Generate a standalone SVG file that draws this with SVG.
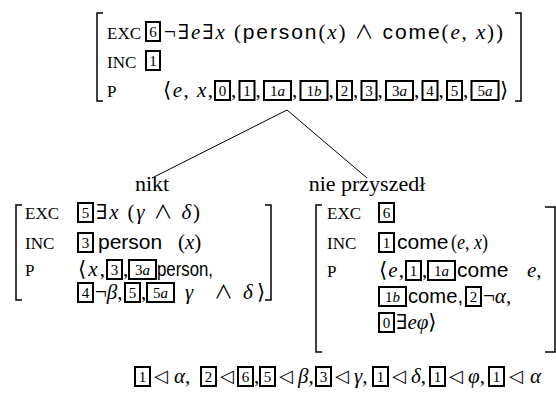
<svg xmlns="http://www.w3.org/2000/svg" width="556" height="406" viewBox="0 0 556 406">
<style>
.m{font-family:"Liberation Serif","DejaVu Serif",serif;font-size:21px;fill:#000}
.i{font-style:italic}
.s{font-family:"Liberation Sans",sans-serif;font-size:21px}
.a{font-family:"Noto Sans CJK JP","DejaVu Sans",sans-serif;font-size:19px}
.t{font-family:"DejaVu Sans",sans-serif;font-size:18px;fill:#000}
.l{font-family:"Liberation Serif",serif;font-size:17px;fill:#000}
.w{font-family:"Liberation Serif",serif;font-size:22px;fill:#000}
.bx{fill:#fff;stroke:#000;stroke-width:2}
.bt{font-family:"Liberation Serif",serif;font-size:15px;text-anchor:middle;fill:#000}
.br{fill:none;stroke:#000;stroke-width:1.5}
.ln{stroke:#000;stroke-width:1;fill:none}
</style>
<rect width="556" height="406" fill="#fff"/>
<g id="connectors">
<line class="ln" x1="287" y1="110" x2="152" y2="178"/>
<line class="ln" x1="287" y1="110" x2="367" y2="178"/>
</g>
<g id="root">
<path class="br" d="M103,13 H97 V101 H103"/>
<path class="br" d="M515,13 H521 V101 H515"/>
<text class="l" x="107" y="39">EXC</text>
<rect class="bx" x="146" y="22" width="14" height="19"/><text class="bt" x="153" y="37">6</text>
<text class="m" x="164" y="39" textLength="339" lengthAdjust="spacing">¬∃<tspan class="i">e</tspan>∃<tspan class="i">x</tspan> (<tspan class="s">person</tspan>(<tspan class="i">x</tspan>) <tspan class="a">∧</tspan> <tspan class="s">come</tspan>(<tspan class="i">e</tspan>, <tspan class="i">x</tspan>))</text>
<text class="l" x="107" y="68">INC</text>
<rect class="bx" x="146" y="51" width="14" height="19"/><text class="bt" x="153" y="66">1</text>
<text class="l" x="107" y="97">P</text>
<text class="m" x="163" y="97" textLength="50" lengthAdjust="spacing">⟨<tspan class="i">e</tspan>, <tspan class="i">x</tspan>,</text>
<rect class="bx" x="215" y="81" width="15" height="19"/><text class="bt" x="222.5" y="96">0</text><text class="m" x="231" y="97">,</text>
<rect class="bx" x="239.5" y="81" width="15" height="19"/><text class="bt" x="247" y="96">1</text><text class="m" x="255.5" y="97">,</text>
<rect class="bx" x="264" y="81" width="27" height="19"/><text class="bt" x="277.5" y="96">1<tspan class="i">a</tspan></text><text class="m" x="292" y="97">,</text>
<rect class="bx" x="300.5" y="81" width="27" height="19"/><text class="bt" x="314" y="96">1<tspan class="i">b</tspan></text><text class="m" x="328.5" y="97">,</text>
<rect class="bx" x="337" y="81" width="15" height="19"/><text class="bt" x="344.5" y="96">2</text><text class="m" x="353" y="97">,</text>
<rect class="bx" x="361.5" y="81" width="15" height="19"/><text class="bt" x="369" y="96">3</text><text class="m" x="377.5" y="97">,</text>
<rect class="bx" x="386" y="81" width="27" height="19"/><text class="bt" x="399.5" y="96">3<tspan class="i">a</tspan></text><text class="m" x="414" y="97">,</text>
<rect class="bx" x="422.5" y="81" width="15" height="19"/><text class="bt" x="430" y="96">4</text><text class="m" x="438.5" y="97">,</text>
<rect class="bx" x="447" y="81" width="15" height="19"/><text class="bt" x="454.5" y="96">5</text><text class="m" x="463" y="97">,</text>
<rect class="bx" x="471.5" y="81" width="27" height="19"/><text class="bt" x="485" y="96">5<tspan class="i">a</tspan></text>
<text class="m" x="500" y="97">⟩</text>
</g>
<g id="nikt">
<text class="w" x="152" y="191" text-anchor="middle">nikt</text>
<path class="br" d="M22,205 H16 V300 H22"/>
<path class="br" d="M265,205 H271 V300 H265"/>
<text class="l" x="25" y="219">EXC</text>
<rect class="bx" x="78" y="203" width="15" height="19"/><text class="bt" x="85.5" y="218">5</text>
<text class="m" x="96" y="219" textLength="104" lengthAdjust="spacing">∃<tspan class="i">x</tspan> (<tspan class="i">γ</tspan> <tspan class="a">∧</tspan> <tspan class="i">δ</tspan>)</text>
<text class="l" x="25" y="249">INC</text>
<rect class="bx" x="78" y="233" width="15" height="19"/><text class="bt" x="85.5" y="248">3</text>
<text class="s" x="98" y="249">person</text>
<text class="m" x="178" y="249">(<tspan class="i">x</tspan>)</text>
<text class="l" x="25" y="276">P</text>
<text class="m" x="78" y="276" textLength="27" lengthAdjust="spacing">⟨<tspan class="i">x</tspan>,</text>
<rect class="bx" x="107" y="260" width="15" height="19"/><text class="bt" x="114.5" y="275">3</text><text class="m" x="123" y="276">,</text>
<rect class="bx" x="129" y="260" width="27" height="19"/><text class="bt" x="142.5" y="275">3<tspan class="i">a</tspan></text>
<text class="s" x="157" y="276" textLength="56" lengthAdjust="spacingAndGlyphs">person,</text>
<rect class="bx" x="78" y="283" width="15" height="19"/><text class="bt" x="85.5" y="298">4</text>
<text class="m" x="95" y="299">¬<tspan class="i">β</tspan>,</text>
<rect class="bx" x="125" y="283" width="15" height="19"/><text class="bt" x="132.5" y="298">5</text><text class="m" x="141" y="299">,</text>
<rect class="bx" x="147" y="283" width="27" height="19"/><text class="bt" x="160.5" y="298">5<tspan class="i">a</tspan></text>
<text class="m" x="185" y="299"><tspan class="i">γ</tspan></text>
<text class="a" x="214" y="299">∧</text>
<text class="m" x="243" y="299"><tspan class="i">δ</tspan><tspan x="257">⟩</tspan></text>
</g>
<g id="nie-przyszedl">
<text class="w" x="367" y="191" text-anchor="middle">nie przyszedł</text>
<path class="br" d="M322,205 H316 V352 H322"/>
<path class="br" d="M545,207 H555 V352 H545"/>
<text class="l" x="327" y="219">EXC</text>
<rect class="bx" x="379" y="203" width="15" height="19"/><text class="bt" x="386.5" y="218">6</text>
<text class="l" x="327" y="249">INC</text>
<rect class="bx" x="379" y="233" width="15" height="19"/><text class="bt" x="386.5" y="248">1</text>
<text class="s" x="397" y="249">come</text>
<text class="m" x="451" y="249" textLength="37" lengthAdjust="spacingAndGlyphs">(<tspan class="i">e</tspan>, <tspan class="i">x</tspan>)</text>
<text class="l" x="327" y="277">P</text>
<text class="m" x="379" y="277" textLength="25" lengthAdjust="spacing">⟨<tspan class="i">e</tspan>,</text>
<rect class="bx" x="406" y="261" width="15" height="19"/><text class="bt" x="413.5" y="276">1</text><text class="m" x="422" y="277">,</text>
<rect class="bx" x="428" y="261" width="27" height="19"/><text class="bt" x="441.5" y="276">1<tspan class="i">a</tspan></text>
<text class="s" x="457" y="277">come</text>
<text class="m" x="527" y="277"><tspan class="i">e</tspan>,</text>
<rect class="bx" x="379" y="287" width="27" height="19"/><text class="bt" x="392.5" y="302">1<tspan class="i">b</tspan></text>
<text class="s" x="408" y="303" textLength="55" lengthAdjust="spacingAndGlyphs">come,</text>
<rect class="bx" x="466" y="287" width="15" height="19"/><text class="bt" x="473.5" y="302">2</text>
<text class="m" x="483" y="303">¬<tspan class="i">α</tspan>,</text>
<rect class="bx" x="379" y="313" width="15" height="19"/><text class="bt" x="386.5" y="328">0</text>
<text class="m" x="396" y="329">∃<tspan class="i">eφ</tspan>⟩</text>
</g>
<g id="constraints">
<rect class="bx" x="135" y="367" width="15" height="19"/><text class="bt" x="142.5" y="382">1</text>
<text class="t" x="154" y="382">◁</text><text class="m" x="174" y="383"><tspan class="i">α</tspan>,</text>
<rect class="bx" x="201" y="367" width="15" height="19"/><text class="bt" x="208.5" y="382">2</text>
<text class="t" x="220" y="382">◁</text>
<rect class="bx" x="238" y="367" width="15" height="19"/><text class="bt" x="245.5" y="382">6</text><text class="m" x="254" y="383">,</text>
<rect class="bx" x="260" y="367" width="15" height="19"/><text class="bt" x="267.5" y="382">5</text>
<text class="t" x="279" y="382">◁</text><text class="m" x="298" y="383"><tspan class="i">β</tspan>,</text>
<rect class="bx" x="316" y="367" width="15" height="19"/><text class="bt" x="323.5" y="382">3</text>
<text class="t" x="335" y="382">◁</text><text class="m" x="354" y="383"><tspan class="i">γ</tspan>,</text>
<rect class="bx" x="373" y="367" width="15" height="19"/><text class="bt" x="380.5" y="382">1</text>
<text class="t" x="392" y="382">◁</text><text class="m" x="411" y="383"><tspan class="i">δ</tspan>,</text>
<rect class="bx" x="430" y="367" width="15" height="19"/><text class="bt" x="437.5" y="382">1</text>
<text class="t" x="449" y="382">◁</text><text class="m" x="468" y="383"><tspan class="i">φ</tspan>,</text>
<rect class="bx" x="489" y="367" width="15" height="19"/><text class="bt" x="496.5" y="382">1</text>
<text class="t" x="509" y="382">◁</text><text class="m" x="530" y="383"><tspan class="i">α</tspan></text>
</g>
</svg>
